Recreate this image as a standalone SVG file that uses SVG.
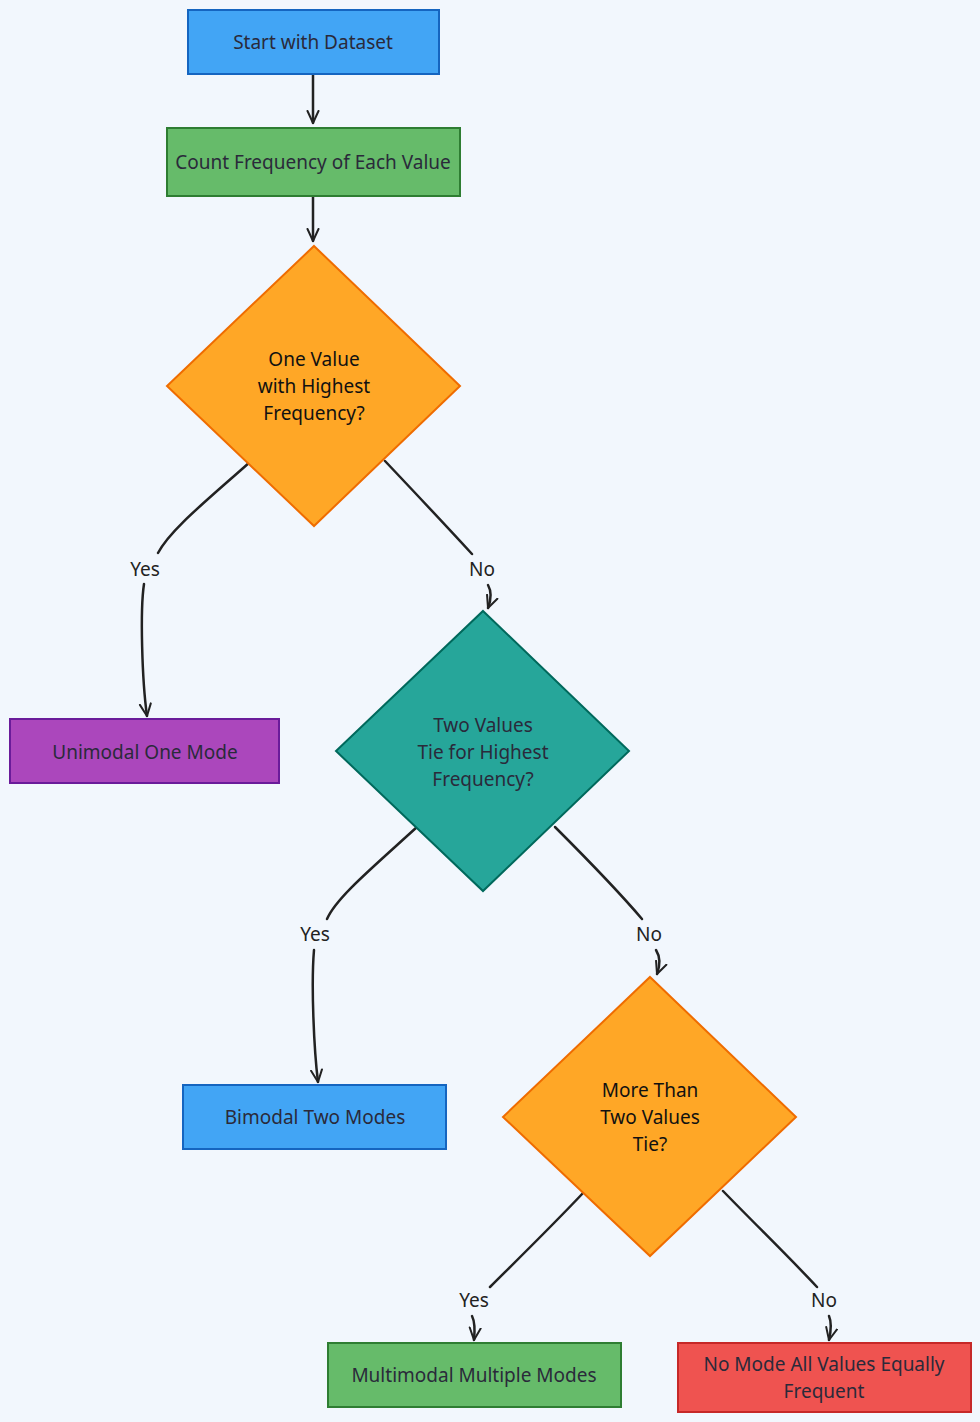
<svg xmlns="http://www.w3.org/2000/svg" width="980" height="1422" viewBox="0 0 980 1422">
<defs>
<marker id="arr" viewBox="0 0 14 14" refX="13" refY="7" markerWidth="14" markerHeight="14" markerUnits="userSpaceOnUse" orient="auto">
<path d="M1,1.5 L13,7 L1,12.5" fill="none" stroke="#222" stroke-width="2" stroke-linecap="round" stroke-linejoin="round"/>
</marker>
<style>
text{font-family:"Noto Sans","Liberation Sans",sans-serif;font-size:19px;fill:#2a2a3a;text-anchor:middle;dominant-baseline:central}
.blue{fill:#42a5f5;stroke:#1565c0;stroke-width:2}
.green{fill:#66bb6a;stroke:#2e7d32;stroke-width:2}
.orange{fill:#ffa726;stroke:#ef6c00;stroke-width:2}
.teal{fill:#26a69a;stroke:#00695c;stroke-width:2}
.purple{fill:#ab47bc;stroke:#6a1b9a;stroke-width:2}
.red{fill:#ef5350;stroke:#c62828;stroke-width:2}
.edge{fill:none;stroke:#222;stroke-width:2.5;stroke-linecap:round}
.lbl{fill:#222}
.dk{fill:#111}
</style>
</defs>
<rect width="980" height="1422" fill="#f2f7fd"/>
<g id="connectors">
<path class="edge" d="M313,75 L313,123" marker-end="url(#arr)"/>
<path class="edge" d="M313,196 L313,241" marker-end="url(#arr)"/>
<path class="edge" d="M250,462 C205,502 170,530 158,553"/>
<path class="edge" d="M144,584 C140,610 142,680 147,716" marker-end="url(#arr)"/>
<path class="edge" d="M385,461 C420,498 450,530 472,554"/>
<path class="edge" d="M488,585 C492,592 491,600 488,608" marker-end="url(#arr)"/>
<path class="edge" d="M417,827 C372,868 336,898 327,919"/>
<path class="edge" d="M314,950 C311,985 314,1050 318,1082" marker-end="url(#arr)"/>
<path class="edge" d="M555,827 C590,862 620,893 642,919"/>
<path class="edge" d="M656,950 C661,958 660,966 657,974" marker-end="url(#arr)"/>
<path class="edge" d="M584,1192 C550,1228 515,1262 490,1287"/>
<path class="edge" d="M472,1316 C475,1322 475,1330 474,1340" marker-end="url(#arr)"/>
<path class="edge" d="M723,1191 C757,1226 790,1258 817,1287"/>
<path class="edge" d="M829,1316 C832,1323 831,1331 829,1340" marker-end="url(#arr)"/>
<text class="lbl" x="145" y="569">Yes</text>
<text class="lbl" x="482" y="569">No</text>
<text class="lbl" x="315" y="934">Yes</text>
<text class="lbl" x="649" y="934">No</text>
<text class="lbl" x="474" y="1300">Yes</text>
<text class="lbl" x="824" y="1300">No</text>
</g>
<g id="start">
<rect class="blue" x="188" y="10" width="251" height="64"/>
<text x="313" y="42">Start with Dataset</text>
</g>
<g id="count">
<rect class="green" x="167" y="128" width="293" height="68"/>
<text x="313" y="162">Count Frequency of Each Value</text>
</g>
<g id="d1">
<polygon class="orange" points="314,246 460,386 314,526 167,386"/>
<text class="dk" x="314" y="359">One Value</text>
<text class="dk" x="314" y="386">with Highest</text>
<text class="dk" x="314" y="413">Frequency?</text>
</g>
<g id="unimodal">
<rect class="purple" x="10" y="719" width="269" height="64"/>
<text x="145" y="752">Unimodal One Mode</text>
</g>
<g id="d2">
<polygon class="teal" points="483,611 629,751 483,891 336,751"/>
<text x="483" y="725">Two Values</text>
<text x="483" y="752">Tie for Highest</text>
<text x="483" y="779">Frequency?</text>
</g>
<g id="bimodal">
<rect class="blue" x="183" y="1085" width="263" height="64"/>
<text x="315" y="1117">Bimodal Two Modes</text>
</g>
<g id="d3">
<polygon class="orange" points="650,977 796,1117 650,1256 503,1117"/>
<text class="dk" x="650" y="1090">More Than</text>
<text class="dk" x="650" y="1117">Two Values</text>
<text class="dk" x="650" y="1144">Tie?</text>
</g>
<g id="multimodal">
<rect class="green" x="328" y="1343" width="293" height="64"/>
<text x="474" y="1375">Multimodal Multiple Modes</text>
</g>
<g id="nomode">
<rect class="red" x="678" y="1343" width="293" height="69"/>
<text x="824" y="1364">No Mode All Values Equally</text>
<text x="824" y="1391">Frequent</text>
</g>
</svg>
